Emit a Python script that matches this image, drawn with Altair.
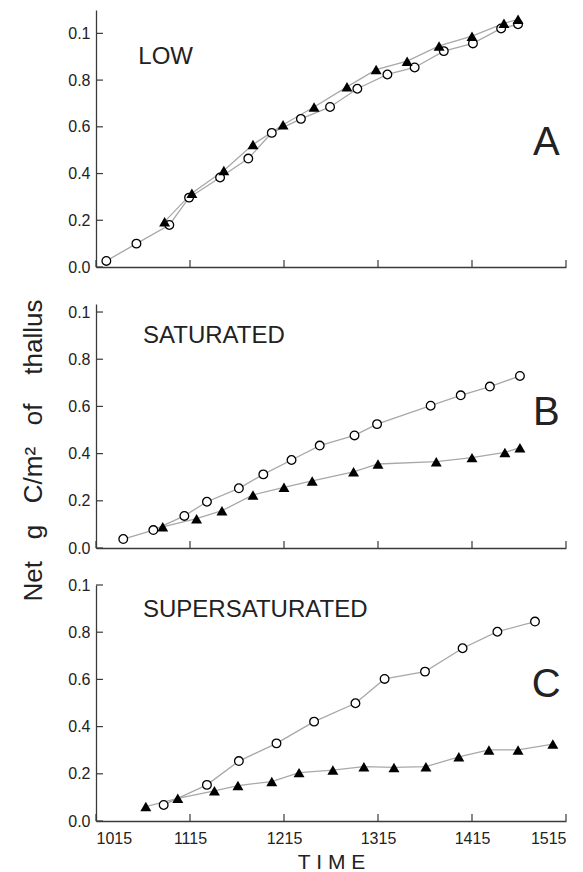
import altair as alt
import pandas as pd

# ---------------- data ----------------
X_TICKS = [1015, 1115, 1215, 1315, 1415, 1515]
Y_TICKS = [0.0, 0.2, 0.4, 0.6, 0.8, 1.0]

# Panel A  (LOW)
A_open_t = [1026, 1058, 1093, 1114, 1147, 1177, 1202, 1233, 1264, 1293, 1325, 1354, 1385, 1416, 1446, 1464]
A_open_v = [0.026, 0.10, 0.18, 0.297, 0.383, 0.464, 0.574, 0.634, 0.685, 0.763, 0.824, 0.854, 0.924, 0.957, 1.021, 1.039]
A_tri_t = [1088, 1117, 1151, 1182, 1214, 1247, 1282, 1313, 1346, 1380, 1415, 1449, 1464]
A_tri_v = [0.194, 0.316, 0.413, 0.524, 0.609, 0.685, 0.771, 0.845, 0.881, 0.946, 0.988, 1.043, 1.06]

# Panel B  (SATURATED)
B_open_t = [1044, 1076, 1109, 1133, 1167, 1193, 1223, 1253, 1290, 1314, 1371, 1403, 1434, 1466]
B_open_v = [0.038, 0.076, 0.136, 0.196, 0.253, 0.312, 0.373, 0.434, 0.477, 0.525, 0.603, 0.647, 0.684, 0.729]
B_tri_t = [1086, 1122, 1149, 1182, 1215, 1245, 1289, 1315, 1377, 1415, 1450, 1466]
B_tri_v = [0.09, 0.124, 0.158, 0.225, 0.257, 0.284, 0.323, 0.356, 0.366, 0.383, 0.405, 0.425]

# Panel C  (SUPERSATURATED)
C_open_t = [1087, 1133, 1167, 1207, 1247, 1291, 1322, 1365, 1405, 1442, 1482]
C_open_v = [0.068, 0.153, 0.254, 0.329, 0.421, 0.499, 0.602, 0.633, 0.732, 0.802, 0.845]
C_tri_t = [1068, 1102, 1141, 1166, 1202, 1231, 1267, 1300, 1332, 1366, 1401, 1433, 1464, 1501]
C_tri_v = [0.061, 0.096, 0.128, 0.15, 0.167, 0.205, 0.216, 0.23, 0.227, 0.23, 0.272, 0.301, 0.301, 0.326]

PANEL_NAMES = ["LOW", "SATURATED", "SUPERSATURATED"]
PANEL_LETTERS = ["A", "B", "C"]
NAME_POS = [(1060, 0.897), (1065, 0.898), (1065, 0.894)]
LETTER_POS = [(1494, 0.532), (1494, 0.572), (1494, 0.576)]

Y_TITLE = "Net\u00a0\u00a0\u00a0g\u00a0\u00a0\u00a0C/m\u00b2\u00a0\u00a0\u00a0of\u00a0\u00a0\u00a0\u00a0thallus"
X_TITLE = "T\u00a0I\u00a0M\u00a0E"

# ---------------- style ----------------
FONT = "Liberation Sans"
AXC = "#3a3a3a"
LINEC = "#a8a8a8"
W = 470


def panel(open_t, open_v, tri_t, tri_v, idx, ymax, height, bottom=False, ytitle=False):
    df_open = pd.DataFrame({"t": open_t, "v": open_v, "s": "open"})
    df_tri = pd.DataFrame({"t": tri_t, "v": tri_v, "s": "tri"})
    df_all = pd.concat([df_open, df_tri], ignore_index=True)

    xaxis_kw = dict(values=X_TICKS, format="d", tickSize=0, labels=bottom,
                    labelPadding=9, titlePadding=5, titleFontSize=21,
                    titleFontWeight="normal", titleFont=FONT)
    yaxis_kw = dict(values=Y_TICKS, tickSize=0, labelPadding=6,
                    labelExpr="datum.value == 1 ? '0.1' : format(datum.value, '.1f')")
    if ytitle:
        yaxis_kw.update(titleFontSize=26, titleFontWeight="normal", titleFont=FONT,
                        titleX=-63, titleY=146, titleAlign="center",
                        titleBaseline="middle", titleAngle=270)

    X = alt.X("t:Q", scale=alt.Scale(domain=[1015, 1515], nice=False, zero=False),
              axis=alt.Axis(**xaxis_kw), title=X_TITLE if bottom else None)
    Y = alt.Y("v:Q", scale=alt.Scale(domain=[0, ymax], nice=False, zero=False),
              axis=alt.Axis(**yaxis_kw), title=Y_TITLE if ytitle else None)

    lines = alt.Chart(df_all).mark_line(color=LINEC, strokeWidth=1.3).encode(
        x=X, y=Y, detail="s:N")
    circles = alt.Chart(df_open).mark_point(
        shape="circle", filled=True, fill="white", stroke="black",
        strokeWidth=1.3, size=75, opacity=1).encode(x=X, y=Y)
    tris = alt.Chart(df_tri).mark_point(
        shape="triangle-up", filled=True, color="black", size=120, opacity=1).encode(x=X, y=Y)

    name_df = pd.DataFrame({"t": [NAME_POS[idx][0]], "v": [NAME_POS[idx][1]],
                            "txt": [PANEL_NAMES[idx]]})
    names = alt.Chart(name_df).mark_text(
        align="left", baseline="middle", font=FONT, fontSize=24, color="#222").encode(
        x=X, y=Y, text="txt:N")
    let_df = pd.DataFrame({"t": [LETTER_POS[idx][0]], "v": [LETTER_POS[idx][1]],
                           "txt": [PANEL_LETTERS[idx]]})
    letters = alt.Chart(let_df).mark_text(
        align="center", baseline="middle", font=FONT, fontSize=40, color="#222").encode(
        x=X, y=Y, text="txt:N")

    xt = alt.Chart(pd.DataFrame({"t": X_TICKS})).mark_rule(color=AXC, strokeWidth=1.2).encode(
        x=X, y=alt.value(height), y2=alt.value(height - 7))
    yt = alt.Chart(pd.DataFrame({"v": Y_TICKS})).mark_rule(color=AXC, strokeWidth=1.2).encode(
        y=Y, x=alt.value(0), x2=alt.value(7))

    return alt.layer(lines, circles, tris, names, letters, xt, yt).properties(
        width=W, height=height)


pA = panel(A_open_t, A_open_v, A_tri_t, A_tri_v, 0, 1.1, 257)
pB = panel(B_open_t, B_open_v, B_tri_t, B_tri_v, 1, 1.034, 244, ytitle=True)
pC = panel(C_open_t, C_open_v, C_tri_t, C_tri_v, 2, 1.0, 236, bottom=True)

chart = alt.vconcat(pA, pB, pC, spacing=37, bounds="flush").properties(
    padding={"left": 19, "top": 10, "right": 5, "bottom": 5}
).configure_view(stroke=None).configure_axis(
    grid=False, domainColor=AXC, domainWidth=1.3,
    labelFont=FONT, labelFontSize=16, labelColor="#222",
    titleColor="#222",
)

chart.save("out.html", embed_options={"renderer": "svg", "actions": False})
